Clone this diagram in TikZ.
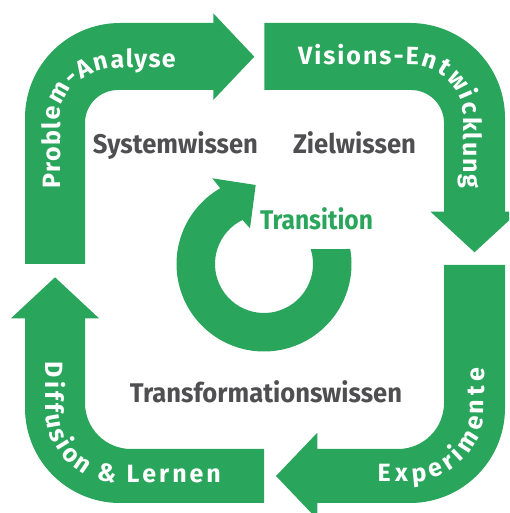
\documentclass[tikz,border=0pt]{standalone}
\usepackage{graphicx}
\usepackage{fontspec}
\setmainfont{Fira Sans}
\newfontfamily\labelfont{Fira Sans}
\newfontfamily\bandfont{Fira Sans}
\usetikzlibrary{decorations.text}
\definecolor{cyclegreen}{HTML}{2AA55C}
\definecolor{labelgray}{HTML}{4F4F51}

% font of the band labels; the argument is the tracking put before each letter
\newcommand\bandformat[1]{\bandfont\bfseries\fontsize{25}{28}\selectfont\kern#1}

\tikzset{
  band/.style={fill=cyclegreen},
  bandtext/.style={decorate, decoration={text along path, text align=left,
      text color=white, text={#1}}},
  knowledge/.style={text=labelgray, font=\labelfont\bfseries\fontsize{27}{30}\selectfont,
      inner sep=0pt, anchor=base},
}

\begin{document}
\begin{tikzpicture}[x=1pt,y=1pt]
\useasboundingbox (0,0) rectangle (509,513);
\clip (0,0) rectangle (509,513);

% Problem-Analyse: up the left side, turning right along the top
\fill[band] (25,249) -- (25,395) arc[start angle=180,end angle=90,radius=95]
  -- (213.3,490) -- (213.3,499.7) -- (254.3,456.3) -- (213.3,413) -- (213.3,423)
  -- (118,423) arc[start angle=90,end angle=180,radius=33] -- (85,249) -- cycle;

% Visions-Entwicklung: along the top, turning down the right side
\fill[band] (264.3,423) -- (264.3,490) -- (410,490) arc[start angle=90,end angle=0,radius=95]
  -- (505,301.3) -- (518.5,301.3) -- (474.5,260.7) -- (430.5,301.3) -- (444,301.3)
  -- (444,390) arc[start angle=0,end angle=90,radius=33] -- cycle;

% Experimente: down the right side, turning left along the bottom
\fill[band] (444,248) -- (505,248) -- (505,105) arc[start angle=0,end angle=-90,radius=95]
  -- (317.3,10) -- (317.3,-6.3) -- (276,37) -- (317.3,80.3) -- (317.3,64)
  -- (398,64) arc[start angle=-90,end angle=0,radius=46] -- cycle;

% Diffusion & Lernen: along the bottom, turning up the left side
\fill[band] (264,64) -- (264,10) -- (120,10) arc[start angle=270,end angle=180,radius=95]
  -- (25,194.7) -- (11,194.7) -- (55,235.7) -- (99,194.7) -- (85,194.7)
  -- (85,110) arc[start angle=180,end angle=270,radius=46] -- cycle;

% central circular arrow
\begin{scope}[shift={(264,249)}]
  \fill[band] (9.87:87.5) arc[start angle=9.87,end angle=-240,radius=87.5]
    -- (-51.7,85.7) -- (-8.3,79) -- (-14,35.7) -- (-244:49)
    arc[start angle=-244,end angle=17.8,radius=49] -- cycle;
\end{scope}

% labels on the bands
\path[bandtext={|\bandformat{1.2pt}|Problem-Analyse}]
  (60,323) -- (60,395)
  arc[start angle=180,end angle=90,x radius=60,y radius=50] -- (300,445);
\path[bandtext={|\bandformat{2pt}|Visions-Entwicklung}]
  (296,448) -- (410,448)
  arc[start angle=90,end angle=0,x radius=53.5,y radius=53] -- (463.5,200);
\path[bandtext={|\bandformat{4.5pt}|Experimente}]
  (373,31) -- (410,31)
  arc[start angle=-90,end angle=0,radius=74] -- (484,300);
\path[bandtext={|\bandformat{3pt}|Diffusion {\&} Lernen}]
  (45,154) -- (45,105)
  arc[start angle=180,end angle=270,radius=75] -- (300,30);

% kinds of knowledge
\node[knowledge] (sys) at (175.5,359) {\resizebox{165pt}{\height}{Systemwissen}};
\node[knowledge] (ziel) at (354.5,359) {\resizebox{123pt}{\height}{Zielwissen}};
\node[knowledge, text=cyclegreen] (trans) at (316.5,283) {\resizebox{113pt}{\height}{Transition}};
\node[knowledge] (tfw) at (266,110) {\resizebox{272pt}{\height}{Transformationswissen}};
\end{tikzpicture}
\end{document}
